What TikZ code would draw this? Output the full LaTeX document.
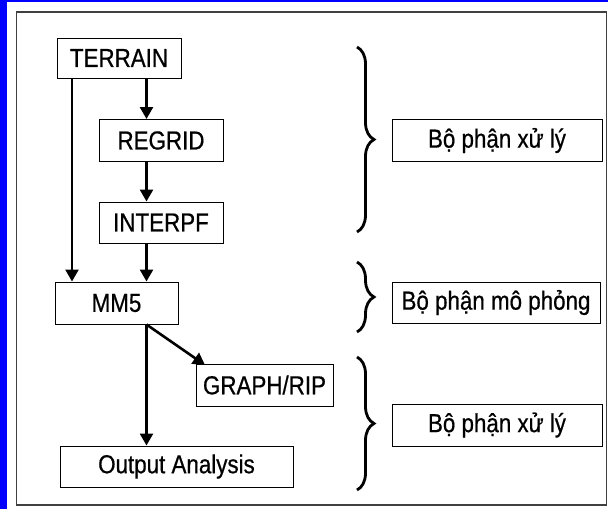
\documentclass[tikz,border=0pt]{standalone}
\usepackage{fontspec}
\setmainfont[FakeStretch=0.86,FakeBold=0.6]{Liberation Sans}
\usetikzlibrary{arrows.meta,decorations.pathreplacing}
\begin{document}
\begin{tikzpicture}[x=1pt,y=-1pt,
  box/.style={draw=black,line width=1pt,inner sep=0pt,font=\fontsize{26}{30}\selectfont},
  arr/.style={line width=2.6pt,-{Triangle[width=13pt,length=12pt]}},
  brc/.style={line width=2.8pt,decorate,decoration={brace,amplitude=17pt}}]
\useasboundingbox (0,0) rectangle (608,509);
\fill[blue] (0,0) rectangle (608,509);
\fill[white] (7,1.5) rectangle (608,509);
\draw[line width=1.6pt,black!75] (16.5,12) rectangle (606.5,505);
% left column
\node[box,minimum width=124pt,minimum height=40pt] (terrain) at (119,58) {TERRAIN};
\node[box,minimum width=124pt,minimum height=42pt] (regrid) at (161,140.5) {REGRID};
\node[box,minimum width=124pt,minimum height=41pt] (interpf) at (161,222.5) {INTERPF};
\node[box,minimum width=123pt,minimum height=42pt] (mm5) at (116.5,303) {MM5};
\node[box,minimum width=137pt,minimum height=42pt] (graph) at (264.5,385) {GRAPH/RIP};
\node[box,minimum width=233pt,minimum height=41pt] (output) at (176.5,466.5) {Output Analysis};
% right column
\node[box,minimum width=210pt,minimum height=42pt] (p1) at (497,140.5) {Bộ phận xử lý};
\node[box,minimum width=208pt,minimum height=41pt] (p2) at (496,302.5) {Bộ phận mô phỏng};
\node[box,minimum width=210pt,minimum height=42pt] (p3) at (497,425) {Bộ phận xử lý};
% arrows
\coordinate (la) at (72,0);
\coordinate (ra) at (146.5,0);
\coordinate (gt) at (205,365);
\draw[arr] (terrain.south -| la) -- (mm5.north -| la);
\draw[arr] (terrain.south -| ra) -- (regrid.north -| ra);
\draw[arr] (regrid.south -| ra) -- (interpf.north -| ra);
\draw[arr] (interpf.south -| ra) -- (mm5.north -| ra);
\draw[arr] (mm5.south -| ra) -- (output.north -| ra);
\draw[arr] (mm5.south -| ra) -- (gt);
% braces
\coordinate (b1t) at (357,47);
\coordinate (b1b) at (357,232);
\coordinate (b2t) at (357,262);
\coordinate (b2b) at (357,332);
\coordinate (b3t) at (357,357);
\coordinate (b3b) at (357,490);
\draw[brc] (b1t) -- (b1b);
\draw[brc] (b2t) -- (b2b);
\draw[brc] (b3t) -- (b3b);
\end{tikzpicture}
\end{document}
